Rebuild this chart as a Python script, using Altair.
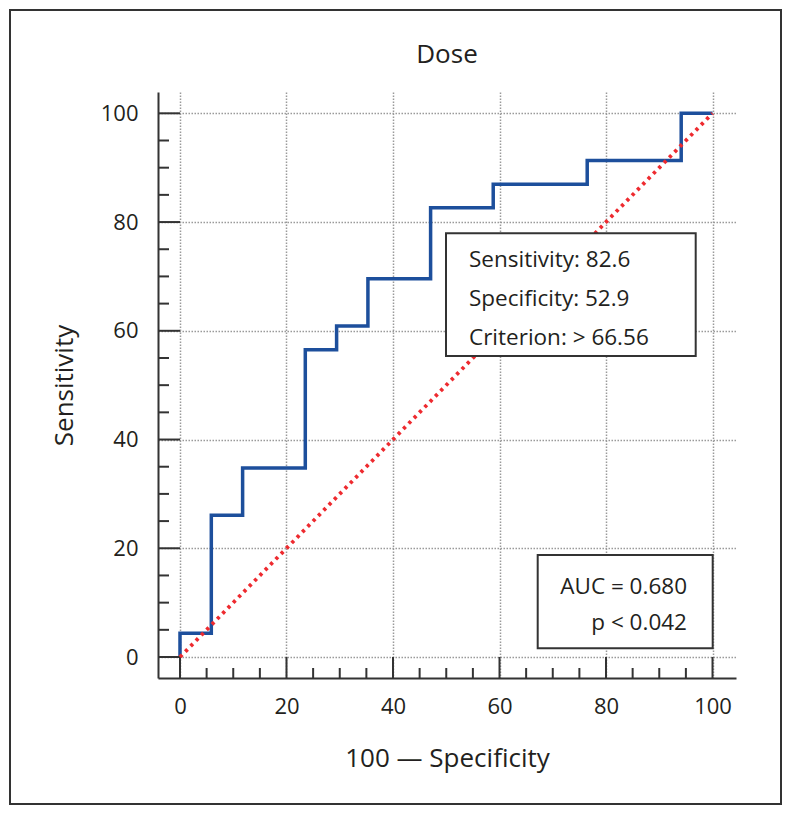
import altair as alt
import pandas as pd

# ROC curve vertices (100 - specificity, sensitivity)
fpr = [0, 0, 5.88, 11.76, 23.53, 29.41, 35.29, 47.06, 58.82, 76.47, 94.12, 100]
tpr = [0, 4.35, 26.09, 34.78, 56.52, 60.87, 69.57, 82.61, 86.96, 91.30, 100, 100]
diag_x = [0, 100]
diag_y = [0, 100]
major_ticks = [0, 20, 40, 60, 80, 100]
minor_ticks = [5, 10, 15, 25, 30, 35, 45, 50, 55, 65, 70, 75, 85, 90, 95]
info_lines = ["Sensitivity: 82.6", "Specificity: 52.9", "Criterion: > 66.56"]
auc_lines = ["AUC = 0.680", "p < 0.042"]
chart_title = "Dose"
x_title = "100 \u2014 Specificity"
y_title = "Sensitivity"

FONT = "Open Sans"
INK = "#231f20"
W, H = 578, 586
X_MIN, X_MAX = -4.13, 104.41
Y_MIN, Y_MAX = -3.86, 103.92

xs = alt.Scale(domain=[X_MIN, X_MAX], nice=False, zero=False)
ys = alt.Scale(domain=[Y_MIN, Y_MAX], nice=False, zero=False)

roc = pd.DataFrame({"fpr": fpr, "tpr": tpr, "idx": list(range(len(fpr)))})
diag = pd.DataFrame({"fpr": diag_x, "tpr": diag_y})
majors = pd.DataFrame({"v": major_ticks})
minors = pd.DataFrame({"v": minor_ticks})
one = pd.DataFrame({"a": [0]})

x_axis = alt.Axis(
    values=major_ticks, title=x_title, grid=True, ticks=False, tickSize=0,
    labelPadding=18, titleX=W / 2, titleY=88, titleAlign="center",
    titleBaseline="alphabetic",
)
y_axis = alt.Axis(
    values=major_ticks, title=y_title, grid=True, ticks=False, tickSize=0,
    labelPadding=20, titleX=-86, titleY=H / 2, titleAlign="center",
    titleBaseline="alphabetic", titleAngle=270,
)


def X(f):
    return alt.X(f, scale=xs, axis=x_axis)


def Y(f):
    return alt.Y(f, scale=ys, axis=y_axis)


roc_line = alt.Chart(roc).mark_line(
    interpolate="step-after", color="#1d4f9c", strokeWidth=3.5
).encode(x=X("fpr:Q"), y=Y("tpr:Q"), order="idx:Q")

diag_line = alt.Chart(diag).mark_line(
    color="#ee2a2f", strokeWidth=3.8, strokeDash=[3.2, 4.4]
).encode(x=X("fpr:Q"), y=Y("tpr:Q"))

tick_style = dict(color="#333333", strokeWidth=2)
x_major = alt.Chart(majors).mark_rule(**tick_style).encode(
    x=X("v:Q"), y=alt.value(H), y2=alt.value(H - 21)
)
x_minor = alt.Chart(minors).mark_rule(**tick_style).encode(
    x=X("v:Q"), y=alt.value(H), y2=alt.value(H - 10)
)
y_major = alt.Chart(majors).mark_rule(**tick_style).encode(
    y=Y("v:Q"), x=alt.value(0), x2=alt.value(22)
)
y_minor = alt.Chart(minors).mark_rule(**tick_style).encode(
    y=Y("v:Q"), x=alt.value(0), x2=alt.value(11)
)

box_style = dict(fill="white", stroke="#333333", strokeWidth=2)
info_box = alt.Chart(one).mark_rect(**box_style).encode(
    x=alt.value(288), x2=alt.value(537.7), y=alt.value(141.3), y2=alt.value(264)
)
info_text = alt.Chart(one).mark_text(
    text=info_lines, font=FONT, fontSize=22.5, color=INK, align="left",
    baseline="alphabetic", lineHeight=39.2
).encode(x=alt.value(311), y=alt.value(174.7))

auc_box = alt.Chart(one).mark_rect(**box_style).encode(
    x=alt.value(379.7), x2=alt.value(554.7), y=alt.value(463), y2=alt.value(556.3)
)
auc_text = alt.Chart(one).mark_text(
    text=auc_lines, font=FONT, fontSize=22.5, color=INK, align="right",
    baseline="alphabetic", lineHeight=36
).encode(x=alt.value(529), y=alt.value(502))

title_text = alt.Chart(one).mark_text(
    text=chart_title, font=FONT, fontSize=26, color=INK, align="center",
    baseline="alphabetic"
).encode(x=alt.value(W / 2), y=alt.value(-29))

border = alt.Chart(one).mark_rect(
    filled=False, stroke="#333333", strokeWidth=2
).encode(x=alt.value(-148), x2=alt.value(623), y=alt.value(-82), y2=alt.value(712))

chart = alt.layer(
    roc_line, x_major, x_minor, y_major, y_minor, diag_line,
    info_box, info_text, auc_box, auc_text, title_text, border,
).properties(
    width=W, height=H,
    autosize=alt.AutoSizeParams(type="none"),
    padding={"left": 150, "top": 84, "right": 48, "bottom": 130},
).configure_view(stroke=None).configure_axis(
    domainColor="#333333", domainWidth=2,
    gridColor="#9a9a9a", gridDash=[1.5, 1.5], gridWidth=1.5,
    labelFont=FONT, labelFontSize=22, labelColor=INK,
    titleFont=FONT, titleFontSize=26, titleColor=INK, titleFontWeight="normal",
)

chart.save("out.html", embed_options={"renderer": "svg", "actions": False})
